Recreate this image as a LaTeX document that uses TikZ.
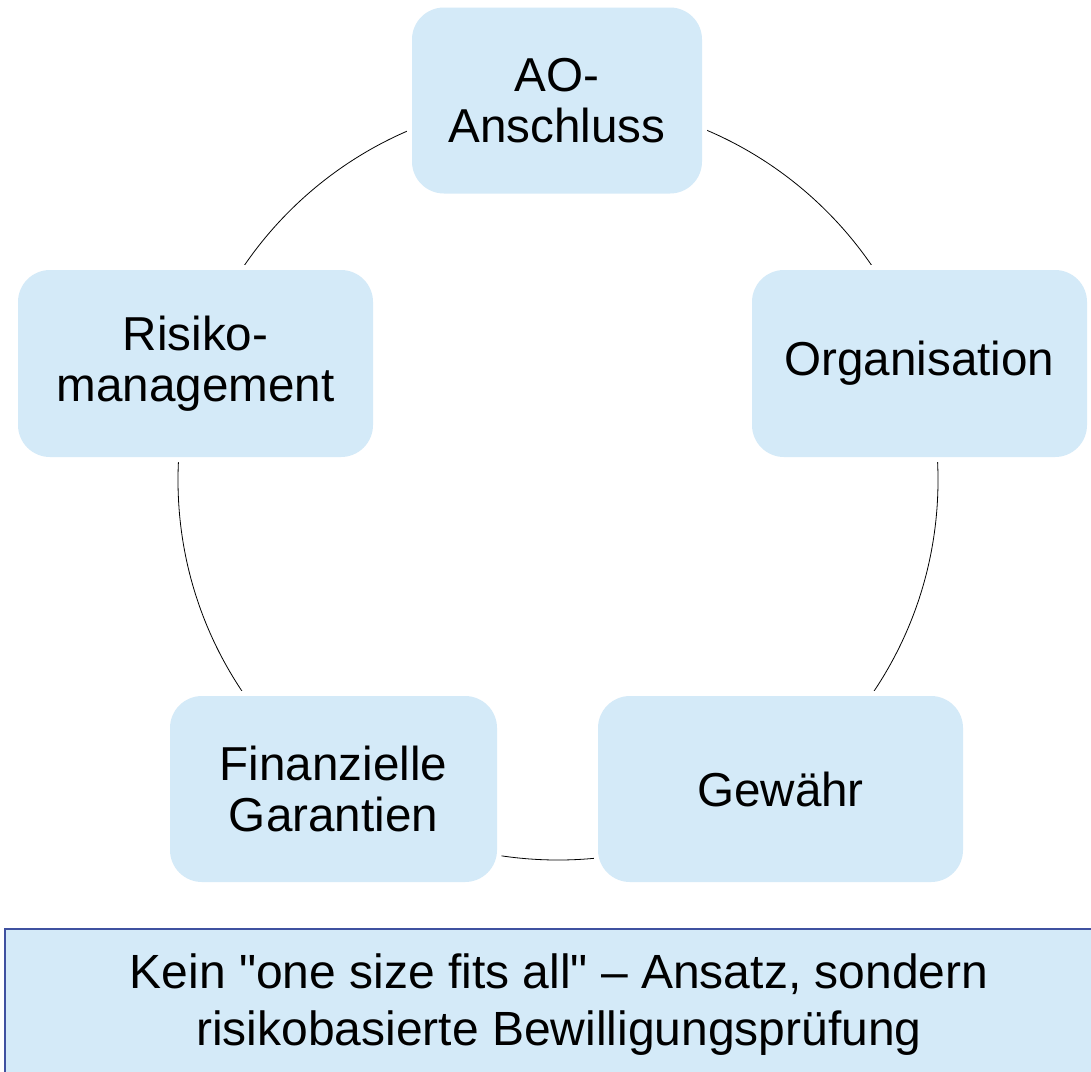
\documentclass[tikz,border=0pt]{standalone}
\usepackage{fontspec}
\setmainfont{Liberation Sans}
\newfontfamily\plainsans{Liberation Sans}[Ligatures=ResetAll]
\definecolor{boxblue}{HTML}{D4EAF8}
\definecolor{edgeblue}{HTML}{3F51A0}
\begin{document}
\begin{tikzpicture}[x=1pt,y=-1pt,
  box/.style={rounded corners=32pt, fill=boxblue, preaction={draw=white, line width=10pt},
    align=center, inner sep=0pt, font=\fontsize{47.6}{51}\selectfont},
  ring/.style={draw=black, line width=0.8pt},
  notebox/.style={fill=boxblue, draw=edgeblue, line width=2.2pt},
  notetext/.style={align=center, inner sep=0pt, font=\plainsans\fontsize{48}{57}\selectfont}]
\useasboundingbox (0,0) rectangle (1091,1071);
\draw[ring] (558,480) circle[radius=380];
\node[box, minimum width=290pt, minimum height=186pt] (ao) at (557,100.5) {AO-\\Anschluss};
\node[box, minimum width=335pt, minimum height=187pt] (org) at (919.5,363.5) {Organisation};
\node[box, minimum width=365pt, minimum height=186pt] (gew) at (780.5,789) {Gewähr};
\node[box, minimum width=327pt, minimum height=186pt] (fin) at (333.5,789) {Finanzielle\\Garantien};
\node[box, minimum width=355pt, minimum height=187pt] (risk) at (195.5,363.5) {Risiko-\\management};
\begin{scope}
\clip (0,0) rectangle (1091,1071);
\draw[notebox] (5,929) rectangle (1110,1090);
\end{scope}
\node[notetext] (note) at (559,1005) {Kein "one size fits all" – Ansatz, sondern\\risikobasierte Bewilligungsprüfung};
\end{tikzpicture}
\end{document}
